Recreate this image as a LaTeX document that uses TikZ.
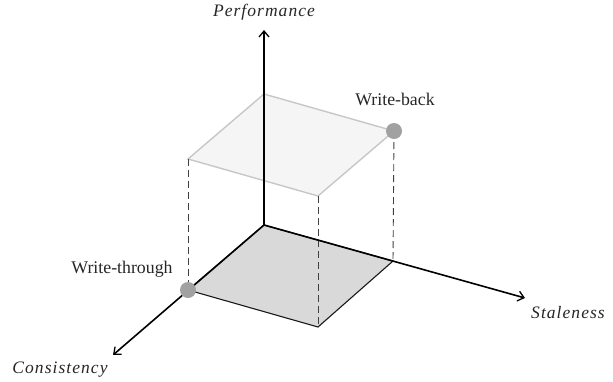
\documentclass[tikz,border=0pt]{standalone}
\usepackage{fontspec}
\setmainfont{Liberation Serif}
\newfontfamily\spacedit[LetterSpace=6]{Liberation Serif}
\usetikzlibrary{arrows.meta}
\begin{document}
\begin{tikzpicture}[x=1pt,y=-1pt,
  axis/.style={line width=1.6pt, black, -{Straight Barb[length=6pt,width=10pt,line width=1.3pt]}},
  lbl/.style={font=\fontsize{17.8}{20}\selectfont, text=black!85, inner sep=0pt},
  ilbl/.style={font=\spacedit\fontsize{17.5}{20}\selectfont\itshape, text=black!85, inner sep=0pt},
  dot/.style={circle, fill=black!37, minimum size=16pt, inner sep=0pt},
  drop/.style={dashed, dash pattern=on 7pt off 4pt, line width=0.9pt, black!75},
  topsq/.style={fill=black!4, draw=black!22, line width=1.4pt},
  botsq/.style={fill=black!15, draw=black!90, line width=1.1pt}]
\useasboundingbox (0,0) rectangle (613,381);
% coordinates
\coordinate (O) at (264,225);
\coordinate (C) at (188,290);
\coordinate (S) at (393,261);
\coordinate (F) at (318,327);
\coordinate (TO) at (264,94);
\coordinate (TC) at (188,159);
\coordinate (TS) at (394,131);
\coordinate (TF) at (318,196);
\coordinate (Pend) at (264,30);
\coordinate (Send) at (525,298);
\coordinate (Cend) at (113,355);
% bottom square
\draw[botsq] (O) -- (S) -- (F) -- (C) -- cycle;
% top square
\draw[topsq] (TO) -- (TS) -- (TF) -- (TC) -- cycle;
% dashed drops
\draw[drop] (TC) -- (C);
\draw[drop] (TF) -- (F);
\draw[drop] (TS) -- (S);
% axes
\draw[axis] (O) -- (Pend);
\draw[axis] (O) -- (Send);
\draw[axis] (O) -- (Cend);
% dots
\node[dot] (wb) at (TS) {};
\node[dot] (wt) at (C) {};
% labels
\node[ilbl] (perf) at (264,12) {Performance};
\node[ilbl] (stal) at (568,313) {Staleness};
\node[ilbl] (cons) at (60,370) {Consistency};
\node[lbl] (wbl) at (395,99) {Write-back};
\node[lbl] (wtl) at (122,269) {Write-through};
\end{tikzpicture}
\end{document}
